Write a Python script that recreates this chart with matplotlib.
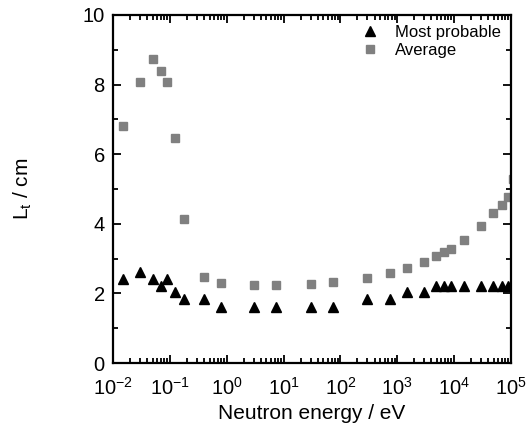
import matplotlib
matplotlib.use("Agg")
import matplotlib.pyplot as plt
import numpy as np
from matplotlib.ticker import LogLocator, MultipleLocator, NullFormatter

plt.rcParams['font.family'] = ['Liberation Sans', 'DejaVu Sans']
plt.rcParams['mathtext.fontset'] = 'custom'
plt.rcParams['mathtext.rm'] = 'Liberation Sans'
plt.rcParams['mathtext.it'] = 'Liberation Sans:italic'

# energies (eV)
energy = [0.015, 0.03, 0.05, 0.07, 0.089, 0.125, 0.176, 0.4, 0.8, 3, 7.5, 30, 74,
          300, 733, 1480, 3000, 4900, 6700, 8900, 14800, 30000, 49000, 69000, 89000]
most_probable = [2.41, 2.62, 2.41, 2.22, 2.41, 2.03, 1.83, 1.83, 1.62, 1.62, 1.62, 1.62, 1.62,
                 1.84, 1.84, 2.03, 2.03, 2.22, 2.22, 2.22, 2.22, 2.22, 2.22, 2.22, 2.22]
average = [6.80, 8.07, 8.73, 8.39, 8.07, 6.46, 4.14, 2.47, 2.31, 2.25, 2.25, 2.27, 2.34,
           2.44, 2.59, 2.72, 2.89, 3.07, 3.18, 3.28, 3.53, 3.93, 4.30, 4.55, 4.77]
# last average point sits just past the right edge
avg_edge_x = [1.1e5]
avg_edge_y = [5.28]

fig = plt.figure(figsize=(5.31, 4.37), dpi=100)
ax = fig.add_axes([0.213, 0.169, 0.749, 0.797])

ax.plot(energy, most_probable, linestyle='none', marker='^', color='black',
        markersize=7, label='Most probable')
ax.plot(energy, average, linestyle='none', marker='s', color='#808080',
        markersize=5.5, label='Average')
ax.plot(avg_edge_x, avg_edge_y, linestyle='none', marker='s', color='#808080',
        markersize=5.5)

ax.set_xscale('log')
ax.set_xlim(1e-2, 1e5)
ax.set_ylim(0, 10)
ax.xaxis.set_major_locator(LogLocator(base=10, numticks=10))
ax.xaxis.set_minor_locator(LogLocator(base=10, subs=np.arange(2, 10), numticks=20))
ax.xaxis.set_minor_formatter(NullFormatter())
ax.yaxis.set_major_locator(MultipleLocator(2))
ax.yaxis.set_minor_locator(MultipleLocator(1))

ax.tick_params(which='both', direction='in', top=True, right=True, width=1.3)
ax.tick_params(which='major', length=6, labelsize=14.5, pad=6)
ax.tick_params(axis='x', which='major', pad=10)
ax.tick_params(which='minor', length=3.5)
for s in ax.spines.values():
    s.set_linewidth(1.6)

ax.set_xlabel('Neutron energy / eV', fontsize=15, labelpad=4)
ax.set_ylabel(r'L$_\mathregular{t}$ / cm', fontsize=15)
ax.yaxis.set_label_coords(-0.2, 0.5)

ax.legend(loc='upper right', frameon=False, fontsize=12, handletextpad=0.75,
          borderaxespad=0.2, labelspacing=0.2, handlelength=1.5)

fig.savefig('out.png', dpi=100)
